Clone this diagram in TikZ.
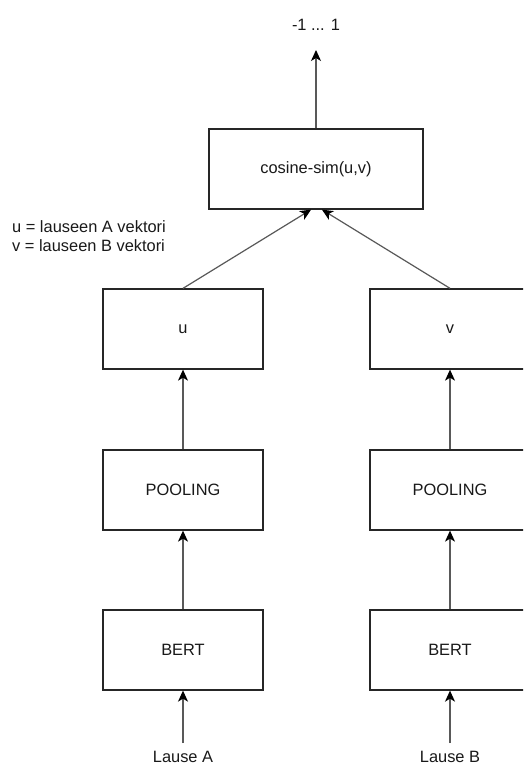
\documentclass[tikz,border=0pt]{standalone}
\usepackage{fontspec}
\setmainfont{Liberation Sans}
\usetikzlibrary{arrows.meta}
\begin{document}
\begin{tikzpicture}[x=1pt,y=-1pt,
  every node/.style={font=\fontsize{16.4}{19}\selectfont, text=black!90},
  block/.style={draw=black!85, line width=1.3pt, minimum width=160pt, minimum height=80pt, inner sep=0pt},
  label/.style={inner sep=8pt},
  arr/.style={draw=black!65, line width=1.2pt,
    -{Stealth[length=11pt,width=10pt,inset=3pt,black,fill=black]}}]
  \clip (0,0) rectangle (523,765);
  \useasboundingbox (0,0) rectangle (523,765);
  \fill[white] (0,0) rectangle (523,765);

  % output range and similarity block
  \node (out) at (316,25) {-1 ... 1};
  \coordinate (outtip) at (316,50);
  \node[block, minimum width=214pt] (cos) at (316,169) {cosine-sim(u,v)};

  % legend
  \node[anchor=west, inner sep=0pt, align=left] (legend) at (12,236.5)
    {u = lauseen A vektori\\v = lauseen B vektori};

  % left branch (sentence A)
  \node[block] (u) at (183,329) {u};
  \node[block] (poolA) at (183,490) {POOLING};
  \node[block] (bertA) at (183,650) {BERT};
  \node[label] (inA) at (183,757) {Lause A};

  % right branch (sentence B)
  \node[block] (v) at (450,329) {v};
  \node[block] (poolB) at (450,490) {POOLING};
  \node[block] (bertB) at (450,650) {BERT};
  \node[label] (inB) at (450,757) {Lause B};

  % connectors
  \draw[arr] (cos.north) -- (outtip);
  \draw[arr] (u.north) -- ([xshift=-5pt]cos.south);
  \draw[arr] (v.north) -- ([xshift=6pt]cos.south);
  \draw[arr] (poolA.north) -- (u.south);
  \draw[arr] (bertA.north) -- (poolA.south);
  \draw[arr] (inA.north) -- (bertA.south);
  \draw[arr] (poolB.north) -- (v.south);
  \draw[arr] (bertB.north) -- (poolB.south);
  \draw[arr] (inB.north) -- (bertB.south);
\end{tikzpicture}
\end{document}
